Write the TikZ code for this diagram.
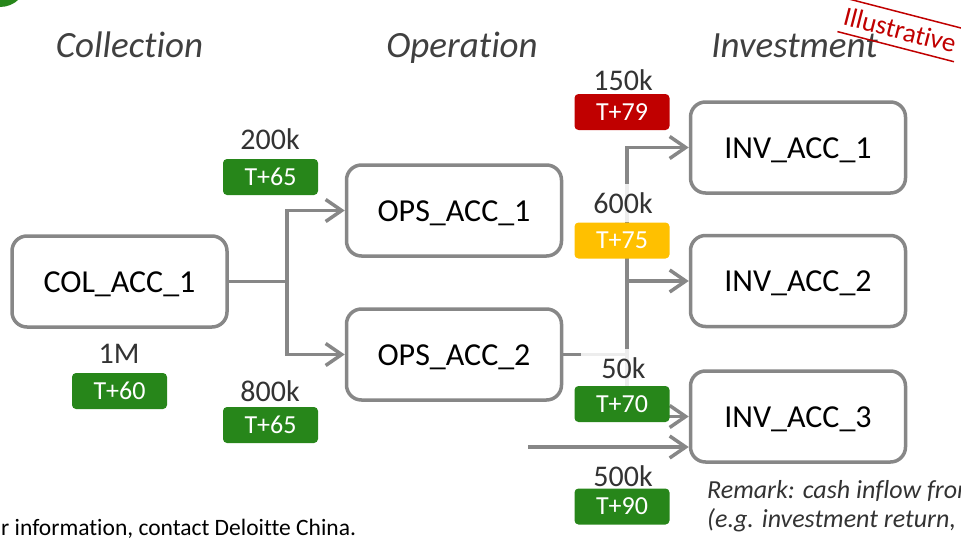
\documentclass[tikz,border=0pt]{standalone}
\usepackage{fontspec}
\setmainfont{Carlito}[Ligatures={NoCommon}]
\usetikzlibrary{arrows.meta}
\definecolor{boxgray}{HTML}{878787}
\definecolor{okgreen}{HTML}{27861A}
\definecolor{latered}{HTML}{C00000}
\definecolor{warnyellow}{HTML}{FFC000}
\definecolor{valtext}{HTML}{333333}
\definecolor{headtext}{HTML}{404040}
\begin{document}
\begin{tikzpicture}[x=1pt,y=-1pt,
  acct/.style={draw=boxgray, line width=3.5pt, rounded corners=15pt, fill=white,
    minimum width=215pt, minimum height=91pt, inner sep=0pt,
    text height=21pt, text depth=0pt,
    font=\fontsize{32}{38}\selectfont},
  head/.style={anchor=base, font=\fontsize{37}{44}\selectfont\itshape, text=headtext},
  amount/.style={font=\fontsize{30}{36}\selectfont, text=valtext, fill=white,
    fill opacity=0.85, text opacity=1, inner sep=0pt,
    minimum width=86pt, minimum height=38pt},
  badge/.style={rounded corners=4pt, minimum width=95pt, minimum height=36pt,
    inner sep=0pt, text=white, font=\fontsize{26}{31}\selectfont},
  flow/.style={draw=boxgray, line width=3.5pt},
  arr/.style={flow, -{Straight Barb[length=16pt,width=22pt]}},
  note/.style={anchor=base west, inner sep=0pt}
]
\useasboundingbox (0,0) rectangle (961,541);
\clip (0,0) rectangle (961,541);

% corner marker
\fill[okgreen] (0,-20) circle (27pt);

% column headings
\node[head] (hcol) at (129.5,57) {Collection};
\node[head] (hops) at (462,57) {Operation};
\node[head] (hinv) at (794.5,57) {Investment};

% stamp
\node[rotate=-14.5, text=latered, font=\fontsize{27}{31}\selectfont,
  minimum width=120pt, minimum height=34pt, inner sep=0pt] (stamp) at (900,30) {Illustrative};
\draw[latered, line width=1.5pt] (stamp.north west) -- (stamp.north east)
  (stamp.south west) -- (stamp.south east);

% accounts
\node[acct] (col)  at (119.5,281.5) {COL\_ACC\_1};
\node[acct] (ops1) at (454,210.5)   {OPS\_ACC\_1};
\node[acct] (ops2) at (454,354.5)   {OPS\_ACC\_2};
\node[acct] (inv1) at (798,147.5)   {INV\_ACC\_1};
\node[acct] (inv2) at (798,281)     {INV\_ACC\_2};
\node[acct] (inv3) at (798,416.5)   {INV\_ACC\_3};

% flows
\coordinate (j1) at (287,281.5);
\coordinate (j2) at (627,354.5);
\coordinate (ext) at (528,447);
\draw[flow] (col.east) -- (j1);
\draw[arr] (j1) |- (ops1.west);
\draw[arr] (j1) |- (ops2.west);
\draw[flow] (ops2.east) -- (j2);
\draw[arr] (j2) |- (inv1.west);
\draw[arr] (j2) |- (inv2.west);
\draw[arr] (j2) |- (inv3.west);
\draw[arr] (ext) -- (ext -| inv3.west);

% amounts and value dates
\node[amount] (a1) at (119,353.5) {1M};
\node[badge, fill=okgreen] (b1) at (119.5,391) {T+60};
\node[amount] (a2) at (270,139.5) {200k};
\node[badge, fill=okgreen] (b2) at (270.5,177) {T+65};
\node[amount] (a3) at (270,391) {800k};
\node[badge, fill=okgreen] (b3) at (270.5,425) {T+65};
\node[amount] (a4) at (623,80) {150k};
\node[badge, fill=latered] (b4) at (622,112) {T+79};
\node[amount] (a5) at (623,203) {600k};
\node[badge, fill=warnyellow] (b5) at (622,240.5) {T+75};
\node[amount] (a6) at (623.5,368) {50k};
\node[badge, fill=okgreen] (b6) at (622,404) {T+70};
\node[amount] (a7) at (623,476.5) {500k};
\node[badge, fill=okgreen] (b7) at (622,506.5) {T+90};

% footnotes
\node[note, font=\fontsize{23.5}{28}\selectfont] (foot) at (1,535)
  {r information, contact Deloitte China.};
\node[note, text=valtext, font=\fontsize{26}{31}\selectfont\itshape] (rem1) at (707,498)
  {Remark: cash inflow from};
\node[note, text=valtext, font=\fontsize{26}{31}\selectfont\itshape] (rem2) at (707,527)
  {(e.g. investment return,};
\end{tikzpicture}
\end{document}
